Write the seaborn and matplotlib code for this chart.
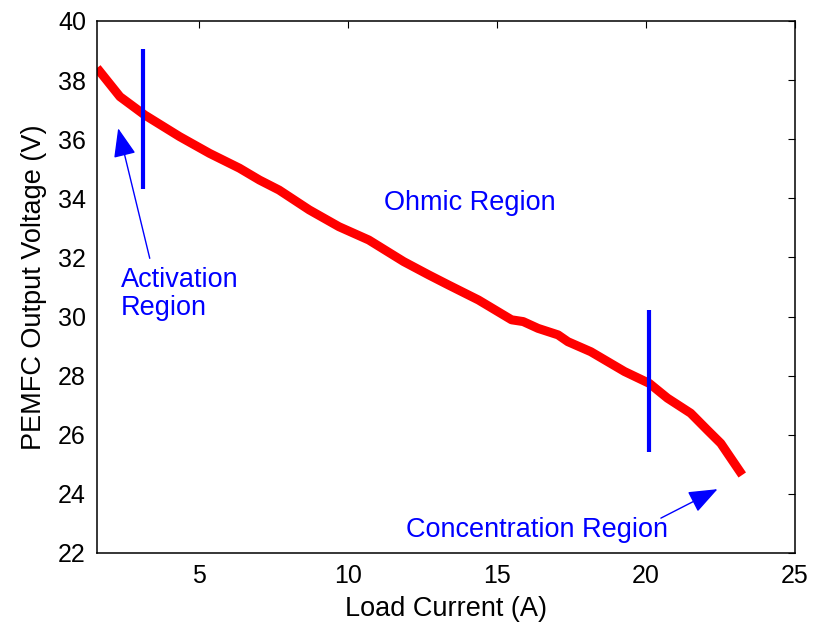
import matplotlib
matplotlib.use("Agg")
import matplotlib.pyplot as plt
import seaborn as sns
import pandas as pd

# Data
current = [1.58, 2.35, 3.18, 4.35, 5.36, 6.36, 7.03, 7.69, 8.70, 9.70, 10.70,
           11.87, 12.71, 13.37, 14.38, 15.49, 15.88, 16.38, 17.05, 17.38, 18.15,
           19.28, 20.11, 20.72, 21.50, 22.06, 22.51, 23.23]
voltage = [38.41, 37.44, 36.82, 36.09, 35.52, 35.02, 34.62, 34.28, 33.61, 33.04, 32.59,
           31.86, 31.41, 31.07, 30.56, 29.89, 29.83, 29.60, 29.38, 29.15, 28.81,
           28.14, 27.74, 27.24, 26.73, 26.16, 25.71, 24.64]

boundary_x = [3.13, 20.11]
boundary_ylo = [34.32, 25.41]
boundary_yhi = [39.04, 30.22]

x_ticks = [5, 10, 15, 20, 25]
y_ticks = [22, 24, 26, 28, 30, 32, 34, 36, 38, 40]

sns.set_theme(style="white")
plt.rcParams['font.family'] = ['Liberation Sans', 'DejaVu Sans']
plt.rcParams['text.color'] = 'black'
plt.rcParams['axes.labelcolor'] = 'black'
plt.rcParams['xtick.color'] = 'black'
plt.rcParams['ytick.color'] = 'black'

fig = plt.figure(figsize=(8.13, 6.3), dpi=100)
ax = fig.add_axes([97/813, 1 - 553/630, (795-97)/813, (553-21)/630])

df = pd.DataFrame({"I": current, "V": voltage})
sns.lineplot(data=df, x="I", y="V", color="#ff0000", lw=6.5, ax=ax, sort=False,
             estimator=None)
for line in ax.lines:
    line.set_solid_capstyle('butt')
    line.set_solid_joinstyle('round')

ax.vlines(boundary_x, boundary_ylo, boundary_yhi, color="#0000ff", lw=3)

ax.set_xlim(1.58, 25)
ax.set_ylim(22, 40)
ax.set_xticks(x_ticks)
ax.set_yticks(y_ticks)
ax.tick_params(axis='both', which='both', direction='in', length=5, width=0.8,
               top=True, right=True, labelsize=18, colors='black', pad=8)
for s in ax.spines.values():
    s.set_visible(True)
    s.set_color('black')
    s.set_linewidth(1.1)

ax.set_xlabel("Load Current (A)", fontsize=19.5, labelpad=6, color='black')
ax.set_ylabel("PEMFC Output Voltage (V)", fontsize=19.5, labelpad=8, color='black')

arrow = dict(arrowstyle='-|>,head_length=0.9,head_width=0.35', color='#0000ff',
             lw=1, mutation_scale=20, shrinkA=0, shrinkB=0)
ax.annotate("", xy=(2.29, 36.37), xytext=(3.35, 31.97), arrowprops=arrow)
ax.annotate("", xy=(22.4, 24.16), xytext=(20.5, 23.18), arrowprops=arrow)

ax.text(2.38, 30.75, "Activation\nRegion", color='#0000ff', fontsize=19.5,
        ha='left', va='center', linespacing=1.1)
ax.text(14.09, 33.85, "Ohmic Region", color='#0000ff', fontsize=19.5,
        ha='center', va='center')
ax.text(11.94, 22.78, "Concentration Region", color='#0000ff', fontsize=19.5,
        ha='left', va='center')

fig.savefig("out.png", dpi=100, facecolor='white')
